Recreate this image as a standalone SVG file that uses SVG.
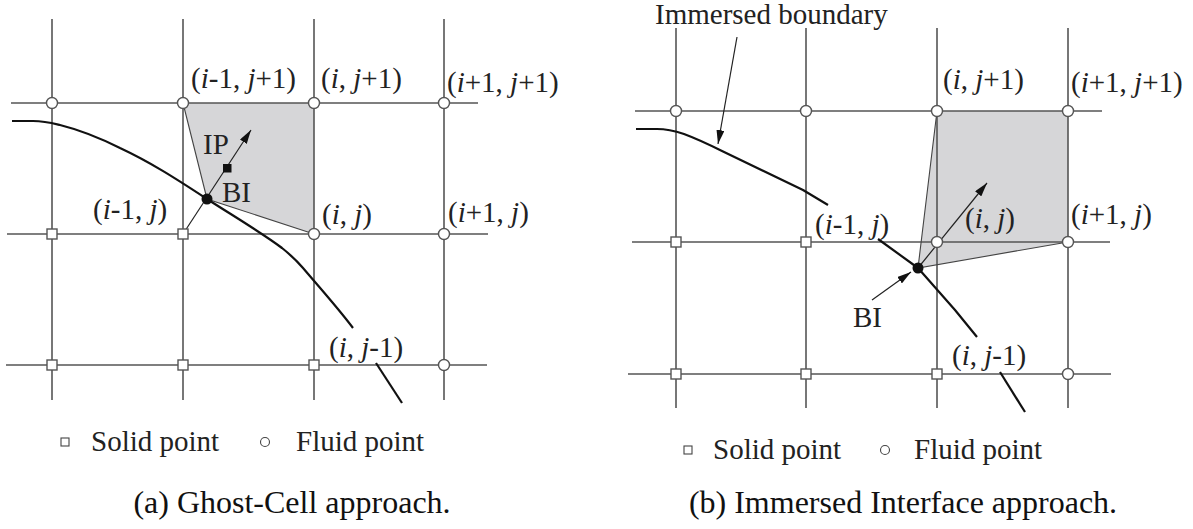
<svg xmlns="http://www.w3.org/2000/svg" width="1193" height="529" viewBox="0 0 1193 529">
<style>
.grid{stroke:#555;stroke-width:1.6;fill:none}
.curve{stroke:#111;stroke-width:2.2;fill:none;stroke-linejoin:round}
.thin{stroke:#444;stroke-width:1.1;fill:none}
.arr{stroke:#222;stroke-width:1.2;fill:none;marker-end:url(#ah)}
.shade{fill:#d6d6d8;stroke:none}
.fl{fill:#fff;stroke:#555;stroke-width:1.4}
.so{fill:#fff;stroke:#555;stroke-width:1.4}
.lg{fill:#fff;stroke:#444;stroke-width:1.1}
.lbl{font-family:"Liberation Serif","Times New Roman",serif;font-size:29px;fill:#222}
.cap{font-family:"Liberation Serif","Times New Roman",serif;font-size:32px;fill:#111;text-anchor:middle}
.it{font-style:italic}
</style>
<defs>
<marker id="ah" markerUnits="userSpaceOnUse" viewBox="0 0 14 8" refX="14" refY="4" markerWidth="14" markerHeight="8" orient="auto">
<path d="M0,0 L14,4 L0,8 z" fill="#111"/>
</marker>
</defs>
<rect width="1193" height="529" fill="#fff"/>

<!-- ===== Panel (a) ===== -->
<g id="a-shading">
<polygon class="shade" points="183,103 314,103 314,234 207,199"/>
</g>
<g id="a-connectors">
<line class="grid" x1="52" y1="19" x2="52" y2="400"/>
<line class="grid" x1="183" y1="19" x2="183" y2="400"/>
<line class="grid" x1="314" y1="19" x2="314" y2="400"/>
<line class="grid" x1="444" y1="19" x2="444" y2="400"/>
<line class="grid" x1="11" y1="103" x2="478" y2="103"/>
<line class="grid" x1="7" y1="234" x2="488" y2="234"/>
<line class="grid" x1="6" y1="365" x2="487" y2="365"/>
<polyline class="thin" points="183,103 207,199 314,234"/>
<path class="curve" d="M12,121 L33,121 C45,121 52,123 60,125 C80,130 100,138 120,148 C150,162 175,178 207,199 C235,217 262,233 282,248 C292,256 297,261 303,268 C320,288 338,308 353,328"/>
<path class="curve" d="M376,363 L402,403"/>
<line class="arr" x1="183" y1="234" x2="251" y2="130"/>
</g>
<g id="a-nodes">
<g id="a-n-im1-jp1"><circle class="fl" cx="183" cy="103" r="5.5"/></g>
<g id="a-n-im2-jp1"><circle class="fl" cx="52" cy="103" r="5.5"/></g>
<g id="a-n-i-jp1"><circle class="fl" cx="314" cy="103" r="5.5"/></g>
<g id="a-n-ip1-jp1"><circle class="fl" cx="444" cy="103" r="5.5"/></g>
<g id="a-n-im2-j"><rect class="so" x="47" y="229" width="10" height="10"/></g>
<g id="a-n-im1-j"><rect class="so" x="178" y="229" width="10" height="10"/></g>
<g id="a-n-i-j"><circle class="fl" cx="314" cy="234" r="5.5"/></g>
<g id="a-n-ip1-j"><circle class="fl" cx="444" cy="234" r="5.5"/></g>
<g id="a-n-im2-jm1"><rect class="so" x="47" y="360" width="10" height="10"/></g>
<g id="a-n-im1-jm1"><rect class="so" x="178" y="360" width="10" height="10"/></g>
<g id="a-n-i-jm1"><rect class="so" x="309" y="360" width="10" height="10"/></g>
<g id="a-n-ip1-jm1"><circle class="fl" cx="444" cy="365" r="5.5"/></g>
<g id="a-bi"><circle cx="207" cy="199" r="5.5" fill="#111"/></g>
<g id="a-ip"><rect x="223" y="164" width="8.5" height="8.5" fill="#111"/></g>
</g>
<g id="a-labels">
<text class="lbl" x="191" y="88">(<tspan class="it">i</tspan>-1, <tspan class="it">j</tspan>+1)</text>
<text class="lbl" x="321" y="88">(<tspan class="it">i</tspan>, <tspan class="it">j</tspan>+1)</text>
<text class="lbl" x="447" y="92">(<tspan class="it">i</tspan>+1, <tspan class="it">j</tspan>+1)</text>
<text class="lbl" x="93" y="219">(<tspan class="it">i</tspan>-1, <tspan class="it">j</tspan>)</text>
<text class="lbl" x="322" y="224">(<tspan class="it">i</tspan>, <tspan class="it">j</tspan>)</text>
<text class="lbl" x="448" y="222">(<tspan class="it">i</tspan>+1, <tspan class="it">j</tspan>)</text>
<text class="lbl" x="203" y="154">IP</text>
<text class="lbl" x="222" y="202">BI</text>
<text class="lbl" x="329" y="357">(<tspan class="it">i</tspan>, <tspan class="it">j</tspan>-1)</text>
</g>
<g id="a-legend">
<rect class="lg" x="61" y="438" width="8" height="8"/>
<text class="lbl" x="91" y="451">Solid point</text>
<circle class="lg" cx="265" cy="442" r="4.5"/>
<text class="lbl" x="296" y="451">Fluid point</text>
</g>
<text class="cap" x="292" y="513">(a) Ghost-Cell approach.</text>

<!-- ===== Panel (b) ===== -->
<g id="b-shading">
<polygon class="shade" points="937,111 1068,111 1068,242 918,268"/>
</g>
<g id="b-connectors">
<line class="grid" x1="676" y1="28" x2="676" y2="408"/>
<line class="grid" x1="806" y1="28" x2="806" y2="408"/>
<line class="grid" x1="937" y1="28" x2="937" y2="408"/>
<line class="grid" x1="1068" y1="28" x2="1068" y2="408"/>
<line class="grid" x1="635" y1="111" x2="1102" y2="111"/>
<line class="grid" x1="632" y1="242" x2="1110" y2="242"/>
<line class="grid" x1="628" y1="374" x2="1111" y2="374"/>
<polyline class="thin" points="937,111 918,268 1068,242"/>
<path class="curve" d="M636,129 L657,129 C668,129 675,131 684,134 C700,140 710,145 722,151 L803,190 L828,205"/>
<path class="curve" d="M878,239 L918,268 L955,310 L977,337"/>
<path class="curve" d="M1000,372 L1025,412"/>
<line class="arr" x1="918" y1="268" x2="987" y2="183"/>
<line class="arr" x1="872" y1="300" x2="911" y2="272"/>
<line class="arr" x1="737" y1="37" x2="718" y2="144"/>
</g>
<g id="b-nodes">
<g id="b-n-im2-jp1"><circle class="fl" cx="676" cy="111" r="5.5"/></g>
<g id="b-n-im1-jp1"><circle class="fl" cx="806" cy="111" r="5.5"/></g>
<g id="b-n-i-jp1"><circle class="fl" cx="937" cy="111" r="5.5"/></g>
<g id="b-n-ip1-jp1"><circle class="fl" cx="1068" cy="111" r="5.5"/></g>
<g id="b-n-im2-j"><rect class="so" x="671" y="237" width="10" height="10"/></g>
<g id="b-n-im1-j"><rect class="so" x="801" y="237" width="10" height="10"/></g>
<g id="b-n-i-j"><circle class="fl" cx="937" cy="242" r="5.5"/></g>
<g id="b-n-ip1-j"><circle class="fl" cx="1068" cy="242" r="5.5"/></g>
<g id="b-n-im2-jm1"><rect class="so" x="671" y="369" width="10" height="10"/></g>
<g id="b-n-im1-jm1"><rect class="so" x="801" y="369" width="10" height="10"/></g>
<g id="b-n-i-jm1"><rect class="so" x="932" y="369" width="10" height="10"/></g>
<g id="b-n-ip1-jm1"><circle class="fl" cx="1068" cy="374" r="5.5"/></g>
<g id="b-bi"><circle cx="918" cy="268" r="5.5" fill="#111"/></g>
</g>
<g id="b-labels">
<text class="lbl" x="655" y="24">Immersed boundary</text>
<text class="lbl" x="943" y="89">(<tspan class="it">i</tspan>, <tspan class="it">j</tspan>+1)</text>
<text class="lbl" x="1071" y="92">(<tspan class="it">i</tspan>+1, <tspan class="it">j</tspan>+1)</text>
<text class="lbl" x="815" y="234">(<tspan class="it">i</tspan>-1, <tspan class="it">j</tspan>)</text>
<text class="lbl" x="965" y="228">(<tspan class="it">i</tspan>, <tspan class="it">j</tspan>)</text>
<text class="lbl" x="1071" y="224">(<tspan class="it">i</tspan>+1, <tspan class="it">j</tspan>)</text>
<text class="lbl" x="853" y="327">BI</text>
<text class="lbl" x="952" y="365">(<tspan class="it">i</tspan>, <tspan class="it">j</tspan>-1)</text>
</g>
<g id="b-legend">
<rect class="lg" x="684" y="446" width="8" height="8"/>
<text class="lbl" x="713" y="459">Solid point</text>
<circle class="lg" cx="885" cy="450" r="4.5"/>
<text class="lbl" x="914" y="459">Fluid point</text>
</g>
<text class="cap" x="903" y="513">(b) Immersed Interface approach.</text>
</svg>
